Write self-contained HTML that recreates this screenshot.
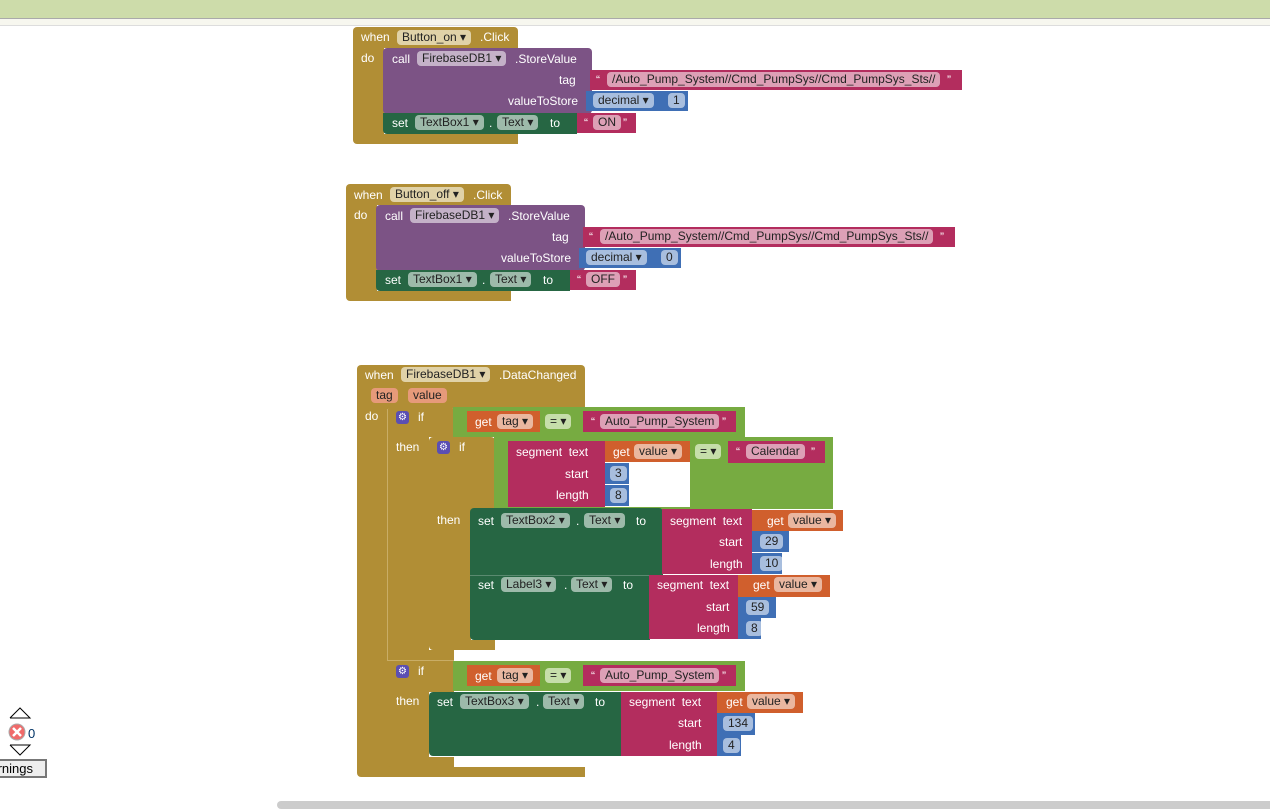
<!DOCTYPE html><html><head><meta charset="utf-8"><style>
body{margin:0;width:1270px;height:809px;position:relative;overflow:hidden;background:#fff;font-family:"Liberation Sans",Arial,sans-serif;font-size:12px}
.r{position:absolute}
.t{position:absolute;color:#fff;white-space:nowrap;line-height:14px}
.p{position:absolute;background:rgba(255,255,255,.55);color:#222;border-radius:4px;height:15px;line-height:15px;padding:0 5px;white-space:nowrap;box-sizing:border-box}
.G{background:#b18e35}.P{background:#7c5385}.K{background:#b32d5e}.B{background:#3f6fb5}.D{background:#266643}.L{background:#77ab41}.O{background:#d05f2d}
.gear{position:absolute;width:13px;height:13px;background:#5b4fb3;border-radius:3px;color:#fff;font-size:10px;line-height:13px;text-align:center}
</style></head><body>
<div class="r" style="left:0;top:0;width:1270px;height:18px;background:#cddcaa;border-bottom:1px solid #aaa"></div>
<div class="r" style="left:0;top:19px;width:1270px;height:6px;background:#f7f7ef;border-bottom:1px solid #ddd"></div>

<!-- Block 1 -->
<div class="r G" style="left:353px;top:27px;width:165px;height:21px;border-radius:4px 4px 0 0"></div>
<div class="r G" style="left:353px;top:48px;width:31px;height:90px"></div>
<div class="r G" style="left:353px;top:134px;width:165px;height:10px;border-radius:0 0 0 4px"></div>
<span class="t" style="left:361px;top:30px">when</span><span class="p" style="left:397px;top:30px;background:#e0d2a8">Button_on ▾</span><span class="t" style="left:480px;top:30px">.Click</span>
<span class="t" style="left:361px;top:51px">do</span>
<div class="r P" style="left:383px;top:48px;width:209px;height:66px;border-radius:4px"></div>
<span class="t" style="left:392px;top:52px">call</span><span class="p" style="left:417px;top:51px">FirebaseDB1 ▾</span><span class="t" style="left:515px;top:52px">.StoreValue</span>
<span class="t" style="left:559px;top:73px">tag</span><span class="t" style="left:508px;top:94px">valueToStore</span>
<div class="r K" style="left:590px;top:70px;width:372px;height:20px"></div>
<span class="t" style="left:596px;top:73px">“</span><span class="p" style="left:607px;top:72px">/Auto_Pump_System//Cmd_PumpSys//Cmd_PumpSys_Sts//</span><span class="t" style="left:947px;top:73px">”</span>
<div class="r B" style="left:586px;top:91px;width:102px;height:20px"></div>
<span class="p" style="left:593px;top:93px">decimal ▾</span><span class="p" style="left:668px;top:93px">1</span>
<div class="r D" style="left:383px;top:113px;width:194px;height:21px;border-radius:0 0 0 4px"></div>
<span class="t" style="left:392px;top:116px">set</span><span class="p" style="left:415px;top:115px">TextBox1 ▾</span><span class="t" style="left:489px;top:116px">.</span><span class="p" style="left:497px;top:115px">Text ▾</span><span class="t" style="left:550px;top:116px">to</span>
<div class="r K" style="left:577px;top:113px;width:59px;height:20px"></div>
<span class="t" style="left:584px;top:116px">“</span><span class="p" style="left:593px;top:115px">ON</span><span class="t" style="left:623px;top:116px">”</span>

<!-- Block 2 -->
<div class="r G" style="left:346px;top:184px;width:165px;height:21px;border-radius:4px 4px 0 0"></div>
<div class="r G" style="left:346px;top:205px;width:31px;height:90px"></div>
<div class="r G" style="left:346px;top:291px;width:165px;height:10px;border-radius:0 0 0 4px"></div>
<span class="t" style="left:354px;top:188px">when</span><span class="p" style="left:390px;top:187px;background:#e0d2a8">Button_off ▾</span><span class="t" style="left:473px;top:188px">.Click</span>
<span class="t" style="left:354px;top:208px">do</span>
<div class="r P" style="left:376px;top:205px;width:209px;height:66px;border-radius:4px"></div>
<span class="t" style="left:385px;top:209px">call</span><span class="p" style="left:410px;top:208px">FirebaseDB1 ▾</span><span class="t" style="left:508px;top:209px">.StoreValue</span>
<span class="t" style="left:552px;top:230px">tag</span><span class="t" style="left:501px;top:251px">valueToStore</span>
<div class="r K" style="left:583px;top:227px;width:372px;height:20px"></div>
<span class="t" style="left:589px;top:230px">“</span><span class="p" style="left:600px;top:229px">/Auto_Pump_System//Cmd_PumpSys//Cmd_PumpSys_Sts//</span><span class="t" style="left:940px;top:230px">”</span>
<div class="r B" style="left:579px;top:248px;width:102px;height:20px"></div>
<span class="p" style="left:586px;top:250px">decimal ▾</span><span class="p" style="left:661px;top:250px">0</span>
<div class="r D" style="left:376px;top:270px;width:194px;height:21px;border-radius:0 0 0 4px"></div>
<span class="t" style="left:385px;top:273px">set</span><span class="p" style="left:408px;top:272px">TextBox1 ▾</span><span class="t" style="left:482px;top:273px">.</span><span class="p" style="left:490px;top:272px">Text ▾</span><span class="t" style="left:543px;top:273px">to</span>
<div class="r K" style="left:570px;top:270px;width:66px;height:20px"></div>
<span class="t" style="left:577px;top:273px">“</span><span class="p" style="left:586px;top:272px">OFF</span><span class="t" style="left:623px;top:273px">”</span>

<!-- Block 3 -->
<div class="r G" style="left:357px;top:365px;width:228px;height:43px;border-radius:4px 4px 0 0"></div>
<div class="r G" style="left:357px;top:407px;width:31px;height:362px"></div>
<div class="r G" style="left:357px;top:767px;width:228px;height:10px;border-radius:0 0 0 4px"></div>
<span class="t" style="left:365px;top:368px">when</span><span class="p" style="left:401px;top:367px;background:#e0d2a8">FirebaseDB1 ▾</span><span class="t" style="left:499px;top:368px">.DataChanged</span>
<span class="p" style="left:371px;top:388px;background:#e69a7a">tag</span><span class="p" style="left:408px;top:388px;background:#e69a7a">value</span>
<span class="t" style="left:365px;top:409px">do</span>
<!-- if1 -->
<div class="r G" style="left:387px;top:407px;width:67px;height:30px;border-radius:4px 4px 0 0"></div>
<div class="r G" style="left:387px;top:436px;width:42px;height:224px"></div>
<div class="r G" style="left:387px;top:650px;width:67px;height:10px"></div>
<div class="r" style="left:387px;top:409px;width:1px;height:358px;background:#c9ad66"></div>
<div class="gear" style="left:396px;top:411px">⚙</div><span class="t" style="left:418px;top:410px">if</span>
<span class="t" style="left:396px;top:440px">then</span>
<div class="r L" style="left:453px;top:407px;width:292px;height:30px"></div>
<div class="r O" style="left:467px;top:411px;width:73px;height:21px"></div><span class="t" style="left:475px;top:415px">get</span><span class="p" style="left:497px;top:414px">tag ▾</span>
<span class="p" style="left:545px;top:414px;background:#c6deaa">= ▾</span>
<div class="r K" style="left:583px;top:411px;width:153px;height:21px"></div><span class="t" style="left:591px;top:415px">“</span><span class="p" style="left:600px;top:414px">Auto_Pump_System</span><span class="t" style="left:722px;top:415px">”</span>
<!-- if2 -->
<div class="r G" style="left:429px;top:437px;width:66px;height:72px;border-radius:4px 4px 0 0"></div>
<div class="r G" style="left:429px;top:508px;width:42px;height:134px"></div>
<div class="r G" style="left:429px;top:640px;width:66px;height:10px;border-radius:0 0 0 4px"></div>
<div class="gear" style="left:437px;top:441px">⚙</div><span class="t" style="left:459px;top:440px">if</span>
<span class="t" style="left:437px;top:513px">then</span>
<div class="r L" style="left:494px;top:437px;width:339px;height:72px"></div>
<div class="r K" style="left:508px;top:441px;width:97px;height:66px"></div>
<span class="t" style="left:516px;top:445px">segment&nbsp;&nbsp;text</span><span class="t" style="left:565px;top:467px">start</span><span class="t" style="left:556px;top:488px">length</span>
<div class="r O" style="left:605px;top:441px;width:85px;height:21px"></div><span class="t" style="left:613px;top:445px">get</span><span class="p" style="left:634px;top:444px">value ▾</span>
<div class="r" style="left:605px;top:462px;width:85px;height:45px;background:#fff"></div>
<div class="r B" style="left:605px;top:463px;width:24px;height:21px"></div><span class="p" style="left:610px;top:466px">3</span>
<div class="r B" style="left:605px;top:485px;width:24px;height:21px"></div><span class="p" style="left:610px;top:488px">8</span>
<span class="p" style="left:695px;top:444px;background:#c6deaa">= ▾</span>
<div class="r K" style="left:728px;top:441px;width:97px;height:22px"></div><span class="t" style="left:736px;top:445px">“</span><span class="p" style="left:746px;top:444px">Calendar</span><span class="t" style="left:811px;top:445px">”</span>
<!-- set TextBox2 -->
<div class="r D" style="left:470px;top:508px;width:193px;height:67px;border-radius:4px 4px 0 0"></div>
<span class="t" style="left:478px;top:514px">set</span><span class="p" style="left:501px;top:513px">TextBox2 ▾</span><span class="t" style="left:576px;top:514px">.</span><span class="p" style="left:584px;top:513px">Text ▾</span><span class="t" style="left:636px;top:514px">to</span>
<div class="r K" style="left:662px;top:509px;width:90px;height:65px"></div>
<span class="t" style="left:670px;top:514px">segment&nbsp;&nbsp;text</span><span class="t" style="left:719px;top:535px">start</span><span class="t" style="left:710px;top:557px">length</span>
<div class="r O" style="left:752px;top:510px;width:91px;height:21px"></div><span class="t" style="left:767px;top:514px">get</span><span class="p" style="left:788px;top:513px">value ▾</span>
<div class="r B" style="left:752px;top:531px;width:37px;height:21px"></div><span class="p" style="left:760px;top:534px">29</span>
<div class="r B" style="left:752px;top:553px;width:30px;height:21px"></div><span class="p" style="left:760px;top:556px">10</span>
<!-- set Label3 -->
<div class="r D" style="left:470px;top:575px;width:180px;height:65px;border-top:1px solid #5a8a70;border-radius:0 0 0 4px;box-sizing:border-box"></div>
<span class="t" style="left:478px;top:578px">set</span><span class="p" style="left:501px;top:577px">Label3 ▾</span><span class="t" style="left:564px;top:578px">.</span><span class="p" style="left:571px;top:577px">Text ▾</span><span class="t" style="left:623px;top:578px">to</span>
<div class="r K" style="left:649px;top:575px;width:90px;height:64px"></div>
<span class="t" style="left:657px;top:578px">segment&nbsp;&nbsp;text</span><span class="t" style="left:706px;top:600px">start</span><span class="t" style="left:697px;top:621px">length</span>
<div class="r O" style="left:738px;top:575px;width:92px;height:22px"></div><span class="t" style="left:753px;top:578px">get</span><span class="p" style="left:774px;top:577px">value ▾</span>
<div class="r B" style="left:738px;top:597px;width:38px;height:21px"></div><span class="p" style="left:746px;top:600px">59</span>
<div class="r B" style="left:738px;top:618px;width:23px;height:21px"></div><span class="p" style="left:746px;top:621px">8</span>
<!-- if3 -->
<div class="r G" style="left:387px;top:660px;width:67px;height:32px"></div>
<div class="r" style="left:387px;top:660px;width:67px;height:1px;background:#c9ad66"></div>
<div class="r G" style="left:387px;top:691px;width:42px;height:77px"></div>
<div class="r G" style="left:387px;top:757px;width:67px;height:10px;border-radius:0 0 0 4px"></div>
<div class="gear" style="left:396px;top:665px">⚙</div><span class="t" style="left:418px;top:664px">if</span>
<span class="t" style="left:396px;top:694px">then</span>
<div class="r L" style="left:453px;top:661px;width:292px;height:30px"></div>
<div class="r O" style="left:467px;top:665px;width:73px;height:21px"></div><span class="t" style="left:475px;top:669px">get</span><span class="p" style="left:497px;top:668px">tag ▾</span>
<span class="p" style="left:545px;top:668px;background:#c6deaa">= ▾</span>
<div class="r K" style="left:583px;top:665px;width:153px;height:21px"></div><span class="t" style="left:591px;top:669px">“</span><span class="p" style="left:600px;top:668px">Auto_Pump_System</span><span class="t" style="left:722px;top:669px">”</span>
<div class="r D" style="left:429px;top:692px;width:193px;height:64px;border-radius:4px 0 0 4px"></div>
<span class="t" style="left:437px;top:695px">set</span><span class="p" style="left:460px;top:694px">TextBox3 ▾</span><span class="t" style="left:536px;top:695px">.</span><span class="p" style="left:543px;top:694px">Text ▾</span><span class="t" style="left:595px;top:695px">to</span>
<div class="r K" style="left:621px;top:692px;width:97px;height:64px"></div>
<span class="t" style="left:629px;top:695px">segment&nbsp;&nbsp;text</span><span class="t" style="left:678px;top:716px">start</span><span class="t" style="left:669px;top:738px">length</span>
<div class="r O" style="left:717px;top:692px;width:86px;height:21px"></div><span class="t" style="left:726px;top:695px">get</span><span class="p" style="left:747px;top:694px">value ▾</span>
<div class="r B" style="left:717px;top:713px;width:38px;height:22px"></div><span class="p" style="left:723px;top:716px">134</span>
<div class="r B" style="left:717px;top:735px;width:24px;height:21px"></div><span class="p" style="left:723px;top:738px">4</span>

<!-- warnings widget -->
<svg class="r" style="left:8px;top:706px" width="26" height="60"><polyline points="2,12 12,2 22,12 2,12" fill="none" stroke="#000" stroke-width="1"/><polyline points="2,39 12,49 22,39 2,39" fill="none" stroke="#000"/><circle cx="9" cy="26" r="8" fill="#f06a6a" stroke="#aaa"/><path d="M5,22 L13,30 M13,22 L5,30" stroke="#fff" stroke-width="2.5"/></svg>
<span class="r" style="left:28px;top:726px;font-size:13px;color:#036">0</span>
<div class="r" style="left:-10px;top:759px;width:57px;height:19px;border:2px solid #777;background:#eee;box-sizing:border-box;font-size:13px;line-height:15px;text-align:right;padding-right:12px">rnings</div>
<div class="r" style="left:277px;top:801px;width:1000px;height:8px;background:#ccc;border-radius:4px"></div>
</body></html>
